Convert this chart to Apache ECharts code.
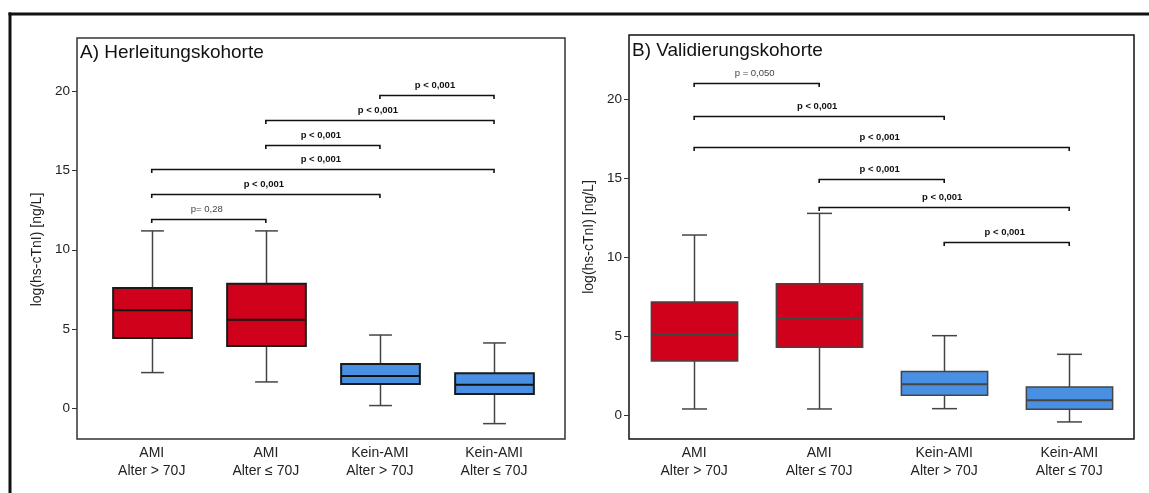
<!DOCTYPE html>
<html><head><meta charset="utf-8">
<script src="https://cdn.jsdelivr.net/npm/echarts@6/dist/echarts.min.js"></script>
<style>html,body{margin:0;padding:0;background:#fff}#chart{width:1149px;height:493px}</style>
</head><body><div id="chart"></div>
<script>
const categories = ['AMI\nAlter > 70J', 'AMI\nAlter \u2264 70J', 'Kein-AMI\nAlter > 70J', 'Kein-AMI\nAlter \u2264 70J'];
const yTicks = [0, 5, 10, 15, 20];
const boxColors = ['#D0021B', '#D0021B', '#4A90E2', '#4A90E2'];

// Panel A: Herleitungskohorte
const aLow = [2.25, 1.66, 0.17, -0.97];
const aQ1 = [4.44, 3.93, 1.53, 0.90];
const aMedian = [6.18, 5.59, 2.04, 1.49];
const aQ3 = [7.59, 7.86, 2.79, 2.21];
const aHigh = [11.19, 11.19, 4.62, 4.12];
const aBracketFrom = [3, 2, 2, 1, 1, 1];
const aBracketTo = [4, 4, 3, 4, 3, 2];
const aBracketLevel = [19.77, 18.17, 16.61, 15.10, 13.50, 11.94];
const aBracketLabel = ['p < 0,001', 'p < 0,001', 'p < 0,001', 'p < 0,001', 'p < 0,001', 'p= 0,28'];

// Panel B: Validierungskohorte
const bLow = [0.38, 0.38, 0.40, -0.44];
const bQ1 = [3.42, 4.28, 1.25, 0.36];
const bMedian = [5.08, 6.12, 1.94, 0.93];
const bQ3 = [7.15, 8.31, 2.76, 1.77];
const bHigh = [11.39, 12.76, 5.02, 3.84];
const bBracketFrom = [1, 1, 1, 2, 2, 3];
const bBracketTo = [2, 3, 4, 3, 4, 4];
const bBracketLevel = [20.99, 18.94, 16.98, 14.94, 13.18, 10.97];
const bBracketLabel = ['p = 0,050', 'p < 0,001', 'p < 0,001', 'p < 0,001', 'p < 0,001', 'p < 0,001'];

const FONT = "'Liberation Sans', Arial, sans-serif";

function boxRender(st) {
  return function (params, api) {
    const i = params.dataIndex;
    const x = api.value(0);
    const pLow = api.coord([x, api.value(1)]);
    const pQ1 = api.coord([x, api.value(2)]);
    const pMed = api.coord([x, api.value(3)]);
    const pQ3 = api.coord([x, api.value(4)]);
    const pHigh = api.coord([x, api.value(5)]);
    const half = api.size([0.69, 0])[0] / 2;
    const capHalf = api.size([0.2, 0])[0] / 2;
    const cx = Math.round(pLow[0]) + 0.5;
    const ws = { stroke: st.whisker, lineWidth: 1.5 };
    return {
      type: 'group',
      children: [
        { type: 'line', shape: { x1: cx, y1: pHigh[1], x2: cx, y2: pQ3[1] }, style: ws },
        { type: 'line', shape: { x1: cx, y1: pQ1[1], x2: cx, y2: pLow[1] }, style: ws },
        { type: 'line', shape: { x1: cx - capHalf, y1: pHigh[1], x2: cx + capHalf, y2: pHigh[1] }, style: ws },
        { type: 'line', shape: { x1: cx - capHalf, y1: pLow[1], x2: cx + capHalf, y2: pLow[1] }, style: ws },
        { type: 'rect', shape: { x: cx - half, y: pQ3[1], width: 2 * half, height: pQ1[1] - pQ3[1] },
          style: { fill: boxColors[i], stroke: st.border, lineWidth: st.borderWidth } },
        { type: 'line', shape: { x1: cx - half, y1: pMed[1], x2: cx + half, y2: pMed[1] },
          style: { stroke: st.median, lineWidth: st.medianWidth } }
      ]
    };
  };
}

function bracketRender(labels) {
  return function (params, api) {
    const i = params.dataIndex;
    const p1 = api.coord([api.value(0), api.value(2)]);
    const p2 = api.coord([api.value(1), api.value(2)]);
    const y = Math.round(p1[1]) + 0.5;
    const lab = labels[i];
    const bold = lab.indexOf('<') >= 0;
    return {
      type: 'group',
      children: [
        { type: 'polyline', shape: { points: [[p1[0], y + 3.5], [p1[0], y], [p2[0], y], [p2[0], y + 3.5]] },
          style: { stroke: '#111', lineWidth: 1.6, fill: null } },
        { type: 'text', x: (p1[0] + p2[0]) / 2 - 2, y: y - 10.5,
          style: { text: lab, fill: bold ? '#111' : '#444', fontSize: 9.5, fontWeight: bold ? 'bold' : 'normal',
                   fontFamily: FONT, align: 'center', verticalAlign: 'middle' } }
      ]
    };
  };
}

function makeX(gridIndex, min, max) {
  return {
    type: 'value', gridIndex: gridIndex, min: min, max: max,
    axisLine: { show: false }, axisTick: { show: false }, splitLine: { show: false },
    axisLabel: {
      customValues: [1, 2, 3, 4], margin: 5,
      formatter: function (v) { return categories[Math.round(v) - 1]; },
      fontSize: 14, lineHeight: 18, color: '#222', fontFamily: FONT
    }
  };
}

function makeY(gridIndex, min, max, namePad) {
  return {
    type: 'value', gridIndex: gridIndex, min: min, max: max,
    name: 'log(hs-cTnI) [ng/L]', nameLocation: 'middle', nameGap: 33,
    nameTextStyle: { fontSize: 14, color: '#222', fontFamily: FONT, padding: namePad },
    axisLine: { show: false }, splitLine: { show: false },
    axisTick: { show: true, customValues: yTicks, length: 5, lineStyle: { color: '#333', width: 1 } },
    axisLabel: { customValues: yTicks, margin: 7, fontSize: 13.5, color: '#222', fontFamily: FONT }
  };
}

const chart = echarts.init(document.getElementById('chart'), null, { renderer: 'canvas' });
chart.setOption({
  animation: false,
  backgroundColor: '#fff',
  title: [
    { text: 'A) Herleitungskohorte', left: 80, top: 43, padding: 0,
      textStyle: { fontSize: 19, fontWeight: 'normal', color: '#111', fontFamily: FONT } },
    { text: 'B) Validierungskohorte', left: 632, top: 41, padding: 0,
      textStyle: { fontSize: 19, fontWeight: 'normal', color: '#111', fontFamily: FONT } }
  ],
  grid: [
    { left: 77, top: 38, width: 488, height: 401, show: true, borderColor: '#333', borderWidth: 1.5 },
    { left: 629, top: 35, width: 505, height: 404, show: true, borderColor: '#111', borderWidth: 1.5 }
  ],
  xAxis: [makeX(0, 0.345, 4.622), makeX(1, 0.479, 4.518)],
  yAxis: [makeY(0, -1.94, 23.36, [0, 22, 0, 0]), makeY(1, -1.52, 24.05, 0)],
  graphic: [
    { type: 'line', shape: { x1: 8.5, y1: 14, x2: 1149, y2: 14 }, style: { stroke: '#111', lineWidth: 3 } },
    { type: 'line', shape: { x1: 10, y1: 12.5, x2: 10, y2: 493 }, style: { stroke: '#111', lineWidth: 3 } }
  ],
  series: [
    { type: 'custom', xAxisIndex: 0, yAxisIndex: 0, encode: { x: 0, y: [1, 2, 3, 4, 5] },
      data: aLow.map((v, i) => [i + 1, aLow[i], aQ1[i], aMedian[i], aQ3[i], aHigh[i]]),
      renderItem: boxRender({ whisker: '#444', border: '#1a1a1a', borderWidth: 2, median: '#111', medianWidth: 2 }) },
    { type: 'custom', xAxisIndex: 0, yAxisIndex: 0, encode: { x: [0, 1], y: 2 },
      data: aBracketFrom.map((v, i) => [aBracketFrom[i], aBracketTo[i], aBracketLevel[i]]),
      renderItem: bracketRender(aBracketLabel) },
    { type: 'custom', xAxisIndex: 1, yAxisIndex: 1, encode: { x: 0, y: [1, 2, 3, 4, 5] },
      data: bLow.map((v, i) => [i + 1, bLow[i], bQ1[i], bMedian[i], bQ3[i], bHigh[i]]),
      renderItem: boxRender({ whisker: '#444', border: '#444', borderWidth: 1.5, median: '#444', medianWidth: 2 }) },
    { type: 'custom', xAxisIndex: 1, yAxisIndex: 1, encode: { x: [0, 1], y: 2 },
      data: bBracketFrom.map((v, i) => [bBracketFrom[i], bBracketTo[i], bBracketLevel[i]]),
      renderItem: bracketRender(bBracketLabel) }
  ]
});
</script></body></html>
